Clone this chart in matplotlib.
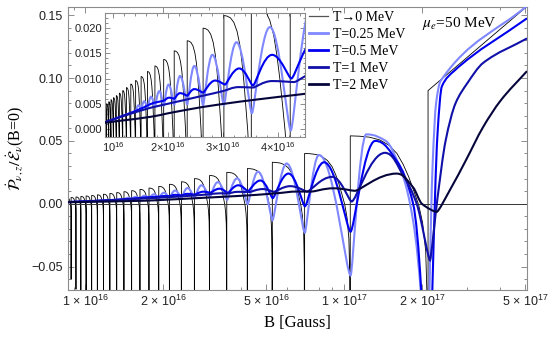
import numpy as np
import matplotlib
matplotlib.use("Agg")
import matplotlib.pyplot as plt
from matplotlib.path import Path
from matplotlib.patches import PathPatch
from matplotlib.ticker import FixedLocator, NullFormatter, MultipleLocator
from matplotlib.lines import Line2D

plt.rcParams['mathtext.fontset'] = 'custom'
plt.rcParams['mathtext.rm'] = 'Liberation Sans'
plt.rcParams['mathtext.it'] = 'Liberation Sans:italic'
plt.rcParams['font.family'] = ['Liberation Sans', 'DejaVu Sans']

UNIT = 1e16  # field values below are in units of 1e16 Gauss

# ---------------- data ----------------
# Landau-level thresholds n = 1..25
B_thr = [21.13, 10.57, 7.04, 5.28, 4.23, 3.52, 3.02, 2.64, 2.35, 2.113, 1.921,
         1.761, 1.625, 1.509, 1.409, 1.321, 1.243, 1.174, 1.112, 1.057, 1.006,
         0.960, 0.919, 0.880, 0.845]
# T->0: value just above each threshold (tooth top)
peak_T0 = [0.090, 0.054, 0.040, 0.033, 0.028, 0.025, 0.0225, 0.020, 0.0175,
           0.0155, 0.0138, 0.0125, 0.0114, 0.0104, 0.0096, 0.0089, 0.0082,
           0.0076, 0.0071, 0.0066, 0.0062, 0.0058, 0.0054, 0.0050, 0.0047]
# T->0: lowest drawn value of the plunge just below each threshold
dip_T0 = [-0.5, -0.5, -0.5, -0.5, -0.5, -0.5, -0.5, -0.5, -0.5, -0.5, -0.5,
          -0.5, -0.5, -0.5, -0.5, -0.5, -0.5, -0.5, -0.5, -0.5, -0.5, -0.5,
          -0.068, -0.060, -0.06]
# shape of one tooth: position inside the interval and value / tooth top
tooth_u = [0.0, 0.12, 0.25, 0.38, 0.50, 0.60, 0.68, 0.75, 0.82, 0.88, 0.93,
           0.97, 0.99]
tooth_rel = [1.0, 0.995, 0.98, 0.94, 0.86, 0.74, 0.58, 0.40, 0.18, -0.02,
             -0.28, -0.70, -1.5]
# T->0 above the lowest threshold
tail_B = [21.13, 51.0]
tail_v = [0.090, 0.157]

# T = 0.25 MeV
B_025 = [0.85, 1.0, 1.2, 1.409, 1.46, 1.509, 1.565, 1.625, 1.69, 1.761, 1.84,
         1.921, 2.01, 2.113, 2.22, 2.35, 2.48, 2.64, 2.81, 3.02, 3.25, 3.53,
         3.86, 4.24, 4.65, 5.29, 6.0, 7.05, 8.0, 10.6, 12.2, 14.5, 16.5, 18.0,
         19.8, 20.9, 21.4, 22.0, 22.7, 23.6, 51.0]
v_025 = [0.0012, 0.0018, 0.0027, 0.0036, 0.0047, 0.0039, 0.0055, 0.0041,
         0.0064, 0.0043, 0.0075, 0.0045, 0.0088, 0.0047, 0.0105, 0.0048,
         0.0125, 0.0047, 0.0147, 0.0047, 0.0172, 0.0031, 0.0202, -0.0003,
         0.0255, -0.0130, 0.0320, -0.0230, 0.0388, -0.0570, 0.0552, 0.0500,
         0.0280, 0.0000, -0.0700, -0.2500, -0.0700, 0.0300, 0.0800, 0.0975,
         0.1575]
# T = 0.5 MeV
B_05 = [0.85, 1.2, 1.5, 1.75, 1.921, 2.02, 2.113, 2.22, 2.35, 2.48, 2.64,
        2.86, 3.04, 3.30, 3.55, 3.90, 4.25, 4.75, 5.30, 6.10, 7.06, 8.37,
        10.6, 13.2, 16.0, 18.5, 19.9, 20.9, 21.94, 22.99, 23.9, 26.6, 51.0]
v_05 = [0.0013, 0.0027, 0.0040, 0.0052, 0.0056, 0.0062, 0.0060, 0.0071,
        0.0066, 0.0079, 0.0072, 0.0096, 0.0088, 0.0120, 0.0086, 0.0147,
        0.0100, 0.0185, 0.0045, 0.0240, -0.0020, 0.0330, -0.0222, 0.0500,
        0.0340, 0.0000, -0.0700, -0.2500, -0.0700, 0.0558, 0.0934, 0.1055,
        0.1475]
# T = 1 MeV
B_1 = [0.85, 1.37, 1.68, 2.0, 2.6, 3.0, 3.3, 3.55, 3.9, 4.3, 4.85, 5.35, 6.2,
       7.2, 9.0, 10.7, 14.4, 17.0, 19.1, 21.5, 23.0, 24.7, 27.0, 30.0, 34.5,
       51.0]
v_1 = [0.0013, 0.0032, 0.0042, 0.0050, 0.0065, 0.0075, 0.0083, 0.0082,
       0.0095, 0.0093, 0.0117, 0.0095, 0.0140, 0.0097, 0.0214, 0.0018,
       0.0405, 0.0220, 0.0000, -0.0450, 0.0050, 0.0500, 0.0800, 0.0960,
       0.1120, 0.1315]
# T = 2 MeV
B_2 = [0.85, 1.68, 2.0, 2.6, 3.3, 4.05, 4.6, 5.6, 6.6, 7.5, 9.1, 11.0, 15.98,
       18.5, 20.0, 22.8, 26.0, 29.5, 34.5, 40.3, 51.0]
v_2 = [0.0012, 0.0024, 0.0031, 0.0043, 0.0054, 0.0064, 0.0071, 0.0085,
       0.0097, 0.0097, 0.0123, 0.0103, 0.0240, 0.0130, 0.0000, -0.0065,
       0.0130, 0.0340, 0.0610, 0.0820, 0.1055]

labels = ["T\u21920 MeV", "T=0.25 MeV", "T=0.5 MeV", "T=1 MeV", "T=2 MeV"]
colors = ["#000000", "#8088ff", "#0000f0", "#1010a8", "#05053c"]
widths = [0.6, 1.5, 1.5, 1.5, 1.5]


# ---------------- helpers ----------------
def t0_vertices():
    xs, ys = [], []
    nmax = len(B_thr)
    for k in range(nmax - 1, 0, -1):         # tooth between threshold k+1 and k
        b0, b1 = B_thr[k], B_thr[k - 1]
        l0, l1 = np.log(b0), np.log(b1)
        if k != nmax - 1:
            xs.append(b0); ys.append(dip_T0[k])
        for u, r in zip(tooth_u, tooth_rel):
            xs.append(np.exp(l0 + u * (l1 - l0)))
            ys.append(peak_T0[k] * r)
        xs.append(b1); ys.append(dip_T0[k - 1])
    xs.append(tail_B[0]); ys.append(tail_v[0])
    xs.append(tail_B[1]); ys.append(tail_v[1])
    return np.array(xs) * UNIT, np.array(ys)


def smooth_path(bx, vy):
    """Bezier path through the read points: flat tangent at extrema,
    short handles at minima (sharp dips), long handles at maxima."""
    lx = np.log10(np.asarray(bx, float))
    y = np.asarray(vy, float)
    n = len(lx)
    d = np.diff(y) / np.diff(lx)
    m = np.zeros(n)
    hf = np.full(n, 1 / 3)
    m[0], m[-1] = d[0], d[-1]
    for i in range(1, n - 1):
        if d[i - 1] * d[i] <= 0:
            m[i] = 0.0
            hf[i] = 0.45 if d[i - 1] > 0 else 0.14
        else:
            m[i] = 2.0 / (1.0 / d[i - 1] + 1.0 / d[i])
    verts = [(10 ** lx[0] * UNIT, y[0])]
    codes = [Path.MOVETO]
    for i in range(n - 1):
        h = lx[i + 1] - lx[i]
        c1 = (lx[i] + hf[i] * h, y[i] + m[i] * hf[i] * h)
        c2 = (lx[i + 1] - hf[i + 1] * h, y[i + 1] - m[i + 1] * hf[i + 1] * h)
        for (a, b) in (c1, c2, (lx[i + 1], y[i + 1])):
            verts.append((10 ** a * UNIT, b))
        codes += [Path.CURVE4] * 3
    return Path(verts, codes)


series = [(B_025, v_025), (B_05, v_05), (B_1, v_1), (B_2, v_2)]

fig = plt.figure(figsize=(5.5, 3.37), dpi=100)
ax = fig.add_axes([68 / 550, 47 / 337, 459 / 550, 283 / 337])
frame_c = "#8c8c8c"
tick_c = "#222222"


def draw_all(a):
    x0, y0 = t0_vertices()
    a.plot(x0, y0, color=colors[0], lw=widths[0], zorder=2)
    for (bx, vy), c, w in zip(series, colors[1:], widths[1:]):
        p = PathPatch(smooth_path(bx, vy), facecolor='none', edgecolor=c,
                      lw=w, zorder=3, capstyle='butt')
        a.add_patch(p)


draw_all(ax)
ax.axhline(0, color="#333333", lw=0.7, zorder=2.5)
ax.set_xscale('log')
ax.set_xlim(0.856e16, 5.1e17)
ax.set_ylim(-0.0686, 0.1565)
ax.xaxis.set_major_locator(FixedLocator([1e16, 2e16, 5e16, 1e17, 2e17, 5e17]))
ax.set_xticklabels([r"1 × 10$^{16}$", r"2 × 10$^{16}$", r"5 × 10$^{16}$",
                    r"1 × 10$^{17}$", r"2 × 10$^{17}$", r"5 × 10$^{17}$"])
minors = [m * 10 ** e for e in (15, 16, 17) for m in range(1, 10)]
ax.xaxis.set_minor_locator(FixedLocator(minors))
ax.xaxis.set_minor_formatter(NullFormatter())
ax.yaxis.set_major_locator(FixedLocator([-0.05, 0.0, 0.05, 0.10, 0.15]))
ax.set_yticklabels(["\u22120.05", "0.00", "0.05", "0.10", "0.15"])
ax.yaxis.set_minor_locator(MultipleLocator(0.01))
ax.tick_params(which='both', direction='in', top=True, right=True,
               color=frame_c, labelcolor=tick_c, labelsize=9, width=0.7)
ax.tick_params(which='major', length=4)
ax.tick_params(which='minor', length=2)
ax.tick_params(axis='x', pad=3)
for s in ax.spines.values():
    s.set_color(frame_c); s.set_linewidth(0.8)

ax.set_xlabel("B [Gauss]", family=['Liberation Serif', 'DejaVu Serif'],
              fontsize=12, labelpad=4)
ax.set_ylabel(r"$\dot{\mathcal{P}}_{\nu,z}/\dot{\mathcal{E}}_\nu$(B=0)",
              family=['Liberation Serif', 'DejaVu Serif'], fontsize=11.5,
              math_fontfamily='stix', labelpad=4)

fig.text(422 / 550, 1 - 23 / 337, r"$\mu_e$=50 MeV",
         family=['Liberation Serif', 'DejaVu Serif'], math_fontfamily='stix',
         fontsize=11, va='center', ha='left')

handles = [Line2D([], [], color=c, lw=2.0) for c in colors]
handles[0] = Line2D([], [], color="#555555", lw=0.9)
leg = fig.legend(handles, labels, loc='upper left',
                 bbox_to_anchor=(309 / 550, 1 - 11 / 337),
                 frameon=False, borderpad=0, borderaxespad=0,
                 handlelength=1.35, handletextpad=0.35, labelspacing=0.28,
                 prop={'family': ['Liberation Serif', 'DejaVu Serif'], 'size': 10})

# ---------------- inset ----------------
ins = fig.add_axes([105 / 550, 1 - 137 / 337, 200 / 550, 124 / 337])
ins.set_facecolor('white')
draw_all(ins)
ins.set_xlim(0.85e16, 4.5e16)
ins.set_ylim(-0.0016, 0.023)
ins.xaxis.set_major_locator(FixedLocator([1e16, 2e16, 3e16, 4e16]))
ins.set_xticklabels([r"10$^{16}$", r"2×10$^{16}$", r"3×10$^{16}$", r"4×10$^{16}$"])
ins.xaxis.set_minor_locator(MultipleLocator(0.2e16))
ins.yaxis.set_major_locator(FixedLocator([0.0, 0.005, 0.010, 0.015, 0.020]))
ins.set_yticklabels(["0.000", "0.005", "0.010", "0.015", "0.020"])
ins.yaxis.set_minor_locator(MultipleLocator(0.001))
ins.tick_params(which='both', direction='in', top=True, right=True,
                color=frame_c, labelcolor=tick_c, labelsize=8, width=0.7, pad=2)
ins.tick_params(which='major', length=3.5)
ins.tick_params(which='minor', length=1.8)
for s in ins.spines.values():
    s.set_color(frame_c); s.set_linewidth(0.8)

fig.savefig("out.png", dpi=100)
